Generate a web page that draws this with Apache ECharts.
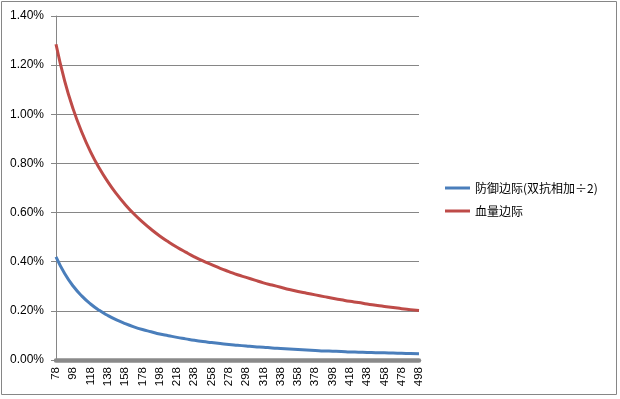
<!DOCTYPE html>
<html>
<head>
<meta charset="utf-8">
<script src="https://cdn.jsdelivr.net/npm/echarts@6/dist/echarts.min.js"></script>
<style>
  html, body { margin: 0; padding: 0; background: #fff; }
  #chart { width: 620px; height: 399px; }
</style>
</head>
<body>
<div id="chart"></div>
<script>
// x categories (step 10, every second one labelled)
const categories = [78, 88, 98, 108, 118, 128, 138, 148, 158, 168, 178, 188, 198, 208, 218, 228, 238,
  248, 258, 268, 278, 288, 298, 308, 318, 328, 338, 348, 358, 368, 378, 388, 398, 408, 418, 428, 438,
  448, 458, 468, 478, 488, 498];

// values in percent
const defenseMargin = [0.420, 0.352, 0.300, 0.260, 0.228, 0.202, 0.181, 0.163, 0.148, 0.135, 0.124,
  0.115, 0.106, 0.099, 0.092, 0.086, 0.080, 0.075, 0.071, 0.067, 0.063, 0.060, 0.057, 0.054, 0.052,
  0.049, 0.047, 0.045, 0.043, 0.041, 0.039, 0.037, 0.036, 0.035, 0.033, 0.032, 0.031, 0.030, 0.029,
  0.028, 0.027, 0.026, 0.025];
const hpMargin = [1.285, 1.136, 1.020, 0.926, 0.847, 0.781, 0.725, 0.676, 0.633, 0.595, 0.562, 0.532,
  0.505, 0.481, 0.459, 0.439, 0.420, 0.403, 0.388, 0.373, 0.360, 0.347, 0.336, 0.325, 0.314, 0.305,
  0.296, 0.287, 0.279, 0.272, 0.265, 0.258, 0.251, 0.245, 0.239, 0.234, 0.228, 0.223, 0.218, 0.214,
  0.209, 0.205, 0.201];

const seriesNames = ['防御边际(双抗相加÷2)', '血量边际'];
const yTicks = { min: 0, max: 1.4, interval: 0.2 };

const chart = echarts.init(document.getElementById('chart'));
chart.setOption({
  animation: false,
  backgroundColor: '#fff',
  graphic: [{
    type: 'rect',
    shape: { x: 1.5, y: 1.5, width: 615, height: 393 },
    style: { fill: 'none', stroke: '#868686', lineWidth: 1 },
    silent: true
  }],
  legend: {
    orient: 'vertical',
    left: 440,
    top: 177,
    itemWidth: 25,
    itemHeight: 3,
    itemGap: 11,
    icon: 'rect',
    textStyle: { fontFamily: 'Noto Sans CJK SC', fontSize: 12, color: '#000' },
    data: seriesNames
  },
  grid: {
    left: 56,
    right: 201,
    top: 16,
    bottom: 39
  },
  xAxis: {
    type: 'category',
    boundaryGap: false,
    data: categories,
    axisLine: { lineStyle: { color: '#8a8a8a', width: 4.5 } },
    axisTick: { show: false },
    axisLabel: {
      interval: 1,
      rotate: 90,
      margin: 7,
      fontFamily: 'Liberation Sans',
      fontSize: 11.5,
      color: '#000'
    }
  },
  yAxis: {
    type: 'value',
    min: yTicks.min,
    max: yTicks.max,
    interval: yTicks.interval,
    axisLine: { show: true, lineStyle: { color: '#868686', width: 1 } },
    axisTick: { show: true, length: 5, lineStyle: { color: '#868686' } },
    splitLine: { lineStyle: { color: '#868686', width: 1 } },
    axisLabel: {
      margin: 12,
      fontFamily: 'Liberation Sans',
      fontSize: 12,
      color: '#000',
      formatter: v => v.toFixed(2) + '%'
    }
  },
  series: [
    {
      name: seriesNames[0],
      type: 'line',
      data: defenseMargin,
      smooth: true,
      showSymbol: false,
      itemStyle: { color: '#4a7ebb' },
      lineStyle: { color: '#4a7ebb', width: 3 }
    },
    {
      name: seriesNames[1],
      type: 'line',
      data: hpMargin,
      smooth: true,
      showSymbol: false,
      itemStyle: { color: '#be4b48' },
      lineStyle: { color: '#be4b48', width: 3 }
    }
  ]
});
</script>
</body>
</html>
